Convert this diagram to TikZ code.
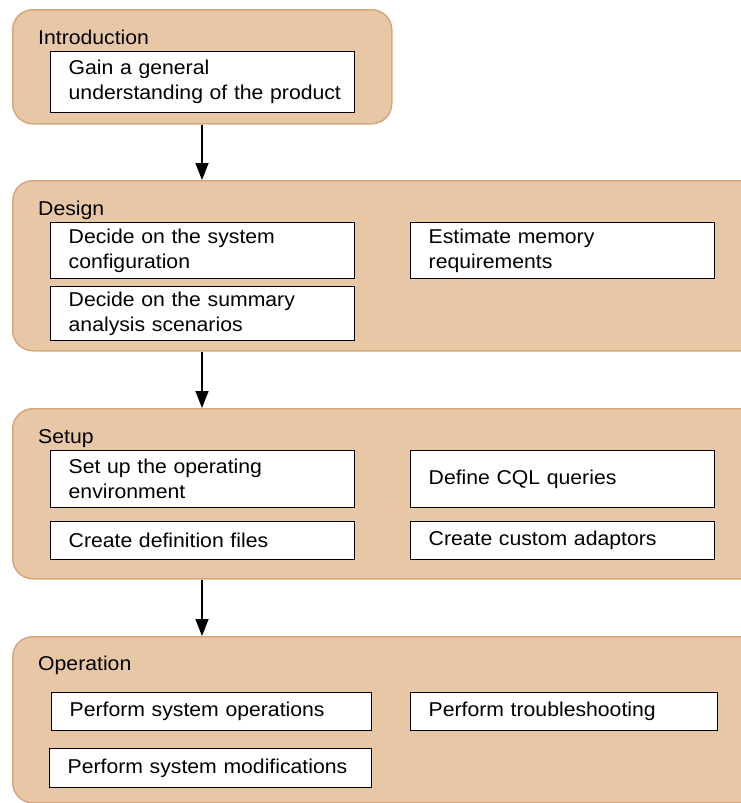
\documentclass[tikz,border=0pt]{standalone}
\usepackage{fontspec}
\setmainfont{Liberation Sans}[FakeStretch=1.06]
\usetikzlibrary{arrows.meta}
\definecolor{panelfill}{HTML}{E8C7A7}
\definecolor{panelline}{HTML}{D6A77B}
\begin{document}
\begin{tikzpicture}[x=1pt,y=-1pt,
  font=\fontsize{20}{25}\selectfont,
  panel/.style={draw=panelline, fill=panelfill, line width=1.5pt,
    rounded corners=20pt, anchor=north west, inner sep=0pt},
  phase/.style={anchor=base west, inner sep=0pt},
  task/.style n args={2}{draw=black, fill=white, line width=1.4pt,
    anchor=north west, inner xsep=0pt, inner ysep=0pt, align=left,
    text width=#1, minimum height=#2,
    execute at begin node={\leftskip=18pt\relax}},
  flow/.style={line width=1.5pt, -{Triangle[width=13pt,length=17pt]}}]
  \useasboundingbox (0,0) rectangle (741,803);
  \clip (0,0) rectangle (741,803);

  % phase panels
  \node[panel, minimum width=379pt, minimum height=114pt] (intro) at (12,9) {};
  \node[panel, minimum width=760pt, minimum height=170pt] (design) at (12,180) {};
  \node[panel, minimum width=760pt, minimum height=170pt] (setup) at (12,408) {};
  \node[panel, minimum width=760pt, minimum height=166pt] (oper) at (12,636) {};

  % phase titles
  \node[phase] (introT) at (38,44) {Introduction};
  \node[phase] (designT) at (38,215) {Design};
  \node[phase] (setupT) at (38,443) {Setup};
  \node[phase] (operT) at (38,670) {Operation};

  % tasks
  \node[task={304pt}{61pt}] (t1) at (50,51) {Gain a general\\understanding of the product};

  \node[task={304pt}{56pt}] (t2) at (50,222) {Decide on the system\\configuration};
  \node[task={304pt}{54pt}] (t3) at (50,286) {Decide on the summary\\analysis scenarios};
  \node[task={304pt}{56pt}] (t4) at (410,222) {Estimate memory\\requirements};

  \node[task={304pt}{57pt}] (t5) at (50,450) {Set up the operating\\environment};
  \node[task={304pt}{38pt}] (t6) at (50,521) {Create definition files};
  \node[task={304pt}{57pt}] (t7) at (410,450) {Define CQL queries};
  \node[task={304pt}{38pt}] (t8) at (410,521) {Create custom adaptors};

  \node[task={320pt}{38pt}] (t9) at (51,692) {Perform system operations};
  \node[task={322pt}{39pt}] (t10) at (49,748) {Perform system modifications};
  \node[task={307pt}{38pt}] (t11) at (410,692) {Perform troubleshooting};

  % flow between phases
  \draw[flow] ([xshift=190pt]intro.south west) -- ([xshift=190pt]design.north west);
  \draw[flow] ([xshift=190pt]design.south west) -- ([xshift=190pt]setup.north west);
  \draw[flow] ([xshift=190pt]setup.south west) -- ([xshift=190pt]oper.north west);
\end{tikzpicture}
\end{document}
